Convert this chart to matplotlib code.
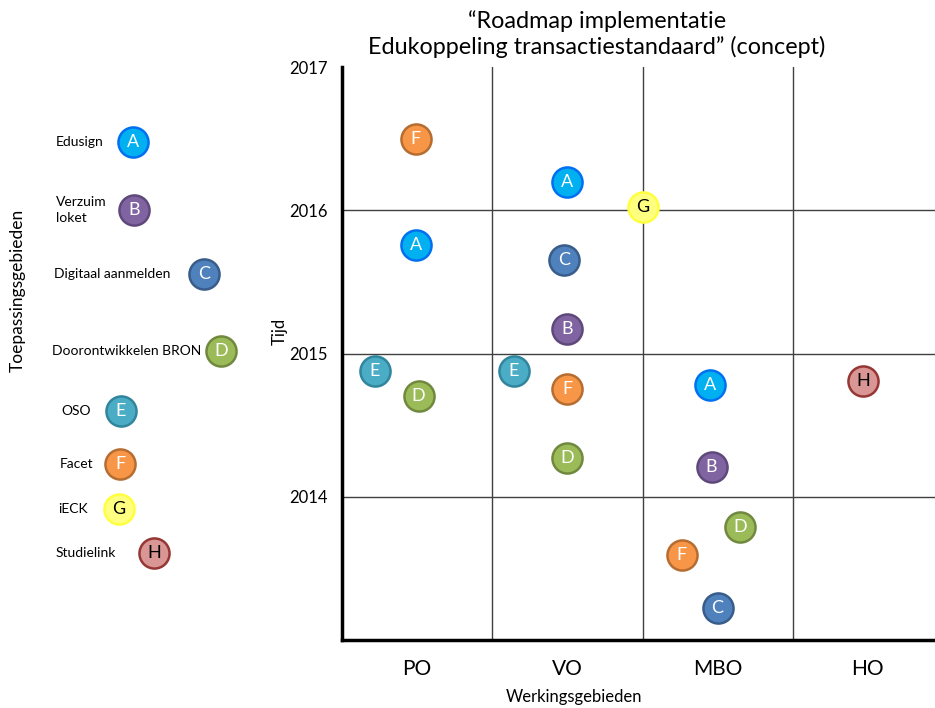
import matplotlib.pyplot as plt

plt.rcParams['font.family'] = ['Lato', 'DejaVu Sans']

# Application areas (legend)
letters = ['A', 'B', 'C', 'D', 'E', 'F', 'G', 'H']
names = ['Edusign', 'Verzuim\nloket', 'Digitaal aanmelden', 'Doorontwikkelen BRON',
         'OSO', 'Facet', 'iECK', 'Studielink']
fills = ['#00B0F0', '#8064A2', '#4F81BD', '#9BBB59', '#4BACC6', '#F79646', '#FFFF80', '#D99694']
edges = ['#0070F0', '#5F497A', '#385D8A', '#71893F', '#31859C', '#B66D31', '#FFFF40', '#953735']
text_colors = ['white'] * 6 + ['black', 'black']

# Work areas (x categories)
sectors = ['PO', 'VO', 'MBO', 'HO']
years = [2014, 2015, 2016, 2017]

# Roadmap items: letter, x position (sector units), time
item_letter = ['F', 'A', 'E', 'D',
               'A', 'C', 'B', 'E', 'F', 'D',
               'G',
               'A', 'B', 'D', 'F', 'C',
               'H']
item_x = [0.49, 0.49, 0.22, 0.51,
          1.50, 1.48, 1.50, 1.145, 1.50, 1.50,
          2.0,
          2.45, 2.46, 2.65, 2.26, 2.50,
          3.47]
item_t = [2016.50, 2015.76, 2014.88, 2014.70,
          2016.20, 2015.65, 2015.17, 2014.88, 2014.75, 2014.27,
          2016.02,
          2014.78, 2014.21, 2013.79, 2013.59, 2013.22,
          2014.81]

W, H = 935, 708
fig = plt.figure(figsize=(W / 100, H / 100), dpi=100)

ax = fig.add_axes([342 / W, 1 - 640 / H, 601 / W, 573 / H])
ax.set_xlim(0, 4)
ax.set_ylim(2013, 2017)

for xv in [1, 2, 3]:
    ax.axvline(xv, color='#404040', lw=1, zorder=1)
for yv in [2014, 2015, 2016]:
    ax.axhline(yv, color='#404040', lw=1, zorder=1)

for s in ['top', 'right']:
    ax.spines[s].set_visible(False)
for s in ['left', 'bottom']:
    ax.spines[s].set_linewidth(2.5)

ax.set_yticks(years)
ax.set_yticklabels([str(y) for y in years], fontsize=12)
ax.set_xticks([0.5, 1.5, 2.5, 3.5])
ax.set_xticklabels(sectors, fontsize=15)
ax.tick_params(axis='both', length=0)
ax.tick_params(axis='x', pad=14)
ax.tick_params(axis='y', pad=10)

for lt, xv, tv in zip(item_letter, item_x, item_t):
    i = letters.index(lt)
    ax.scatter(xv, tv, s=470, color=fills[i], edgecolors=edges[i], linewidths=1.8,
               zorder=3, clip_on=False)
    ax.text(xv, tv, lt, color=text_colors[i], fontsize=13, ha='center', va='center',
            zorder=4)

fig.text(597 / W, 1 - 34 / H,
         '\u201cRoadmap implementatie\nEdukoppeling transactiestandaard\u201d (concept)',
         fontsize=16.8, ha='center', va='center', linespacing=1.25)

fig.text(574 / W, 1 - 697 / H, 'Werkingsgebieden', fontsize=12, ha='center', va='center')
fig.text(280 / W, 1 - 331 / H, 'Tijd', fontsize=12, rotation=90, ha='center', va='center')
fig.text(18 / W, 1 - 290 / H, 'Toepassingsgebieden', fontsize=12.5, rotation=90,
         ha='center', va='center')

# Legend drawn in pixel coordinates
lax = fig.add_axes([0, 0, 1, 1])
lax.set_xlim(0, W)
lax.set_ylim(H, 0)
lax.axis('off')
lax.set_zorder(-1)

leg_cx = [133, 134, 204, 221, 121, 120, 119, 154]
leg_cy = [142, 210, 274, 351, 411, 464, 509, 553]
leg_tx = [56, 56, 54, 52, 61, 60, 58, 56]

for i in range(len(letters)):
    lax.scatter(leg_cx[i], leg_cy[i], s=470, color=fills[i], edgecolors=edges[i],
                linewidths=1.8, zorder=3)
    lax.text(leg_cx[i], leg_cy[i], letters[i], color=text_colors[i], fontsize=13,
             ha='center', va='center', zorder=4)
    lax.text(leg_tx[i], leg_cy[i], names[i], fontsize=10, ha='left', va='center',
             linespacing=1.4)

fig.savefig('out.png', dpi=100)
